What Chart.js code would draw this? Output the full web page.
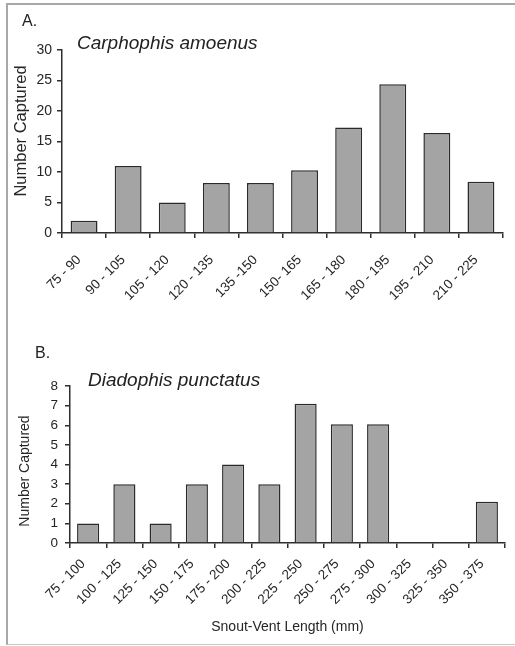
<!DOCTYPE html>
<html>
<head>
<meta charset="utf-8">
<script src="https://cdn.jsdelivr.net/npm/chart.js@4/dist/chart.umd.min.js"></script>
<style>
  html, body { margin: 0; padding: 0; background: #fff; }
  body { width: 515px; height: 646px; position: relative; overflow: hidden; font-family: "Liberation Sans", Arial, sans-serif; color: #222; }
  .frame { position: absolute; left: 6px; top: 3px; width: 507px; height: 639px; border-left: 2px solid #a8a8a8; border-top: 2px solid #a8a8a8; border-bottom: 1px solid #c8c8c8; }
  canvas { position: absolute; left: 0; }
  .panel { position: absolute; font-size: 16px; }
  .species { position: absolute; font-size: 19px; font-style: italic; }
</style>
</head>
<body>
<div class="frame"></div>
<canvas id="chart-a" width="515" height="300" style="top:0"></canvas>
<canvas id="chart-b" width="515" height="346" style="top:300px"></canvas>
<div class="panel" style="left:22px; top:12px">A.</div>
<div class="species" style="left:77px; top:32px">Carphophis amoenus</div>
<div class="panel" style="left:35px; top:344px">B.</div>
<div class="species" style="left:88px; top:369px">Diadophis punctatus</div>
<script>
// size classes (mm) and counts
const classesA = ['75 - 90', '90 - 105', '105 - 120', '120 - 135', '135 -150', '150- 165', '165 - 180', '180 - 195', '195 - 210', '210 - 225'];
const capturedA = [2, 11, 5, 8.2, 8.2, 10.3, 17.3, 24.4, 16.4, 8.4];
const yMaxA = 30;
const yStepA = 5;

const classesB = ['75 - 100', '100 - 125', '125 - 150', '150 - 175', '175 - 200', '200 - 225', '225 - 250', '250 - 275', '275 - 300', '300 - 325', '325 - 350', '350 - 375'];
const capturedB = [1, 3, 1, 3, 4, 3, 7.1, 6.05, 6.05, 0, 0, 2.1];
const yMaxB = 8;
const yStepB = 1;

const axisColor = '#2e2e2e';
const textColor = '#262626';

function makeHistogram(ctx, cfg) {
    const data = {
        labels: cfg.labels,
        datasets: [
            {
                label: 'Number Captured',
                data: cfg.values,
                backgroundColor: '#a4a4a4',
                borderColor: '#2a2a2a',
                borderWidth: 1.5,
                categoryPercentage: 1,
                barPercentage: 0.61,
            }
        ]
    };

    const options = {
        responsive: false,
        animation: false,
        layout: {
            padding: cfg.padding,
        },
        plugins: {
            legend: { display: false },
            title: { display: false },
            tooltip: { enabled: false },
        },
        scales: {
            x: {
                offset: true,
                grid: {
                    display: true,
                    offset: true,
                    drawOnChartArea: false,
                    tickLength: 5,
                    color: axisColor,
                    lineWidth: 1.5,
                },
                border: { color: axisColor, width: 1.5 },
                ticks: {
                    autoSkip: false,
                    minRotation: 45,
                    maxRotation: 45,
                    padding: cfg.xTickPadding,
                    labelOffset: -5,
                    color: textColor,
                    font: { family: 'Liberation Sans', size: 13.5 },
                },
                title: {
                    display: !!cfg.xTitle,
                    text: cfg.xTitle || '',
                    color: textColor,
                    font: { family: 'Liberation Sans', size: 14 },
                    padding: { top: 0, bottom: 10 },
                },
                afterFit(scale) { scale.height = cfg.xHeight; },
            },
            y: {
                min: 0,
                max: cfg.yMax,
                grid: {
                    display: true,
                    drawOnChartArea: false,
                    tickLength: 5,
                    color: axisColor,
                    lineWidth: 1.5,
                },
                border: { color: axisColor, width: 1.5 },
                ticks: {
                    stepSize: cfg.yStep,
                    padding: cfg.yTickPadding,
                    color: textColor,
                    font: { family: 'Liberation Sans', size: cfg.yTickSize },
                },
                afterFit(scale) { scale.width = cfg.yWidth; },
            },
        },
    };

    // y axis title, placed where the original has it (not centred on the axis)
    const yTitlePlugin = {
        id: 'yTitlePlugin',
        afterDraw(chart) {
            const { ctx } = chart;
            ctx.save();
            ctx.translate(cfg.yTitleAt[0], cfg.yTitleAt[1]);
            ctx.rotate(-Math.PI / 2);
            ctx.fillStyle = textColor;
            ctx.font = cfg.yTitleSize + 'px "Liberation Sans"';
            ctx.textAlign = 'center';
            ctx.textBaseline = 'middle';
            ctx.fillText('Number Captured', 0, 0);
            ctx.restore();
        }
    };

    return new Chart(ctx, {
        type: 'bar',
        data: data,
        options: options,
        plugins: [yTitlePlugin],
    });
}

makeHistogram(document.getElementById('chart-a').getContext('2d'), {
    labels: classesA,
    values: capturedA,
    yMax: yMaxA,
    yStep: yStepA,
    padding: { left: 0, right: 12, top: 50, bottom: 0 },
    yWidth: 62,
    xHeight: 67,
    xTickPadding: 14,
    yTickPadding: 5,
    yTickSize: 14,
    yTitleSize: 16.5,
    yTitleAt: [21, 131],
});

makeHistogram(document.getElementById('chart-b').getContext('2d'), {
    labels: classesB,
    values: capturedB,
    yMax: yMaxB,
    yStep: yStepB,
    padding: { left: 0, right: 10, top: 86, bottom: 0 },
    yWidth: 70,
    xHeight: 103,
    xTickPadding: 8,
    yTickPadding: 7,
    yTickSize: 13.5,
    yTitleSize: 14,
    yTitleAt: [25, 171],
    xTitle: 'Snout-Vent Length (mm)',
});
</script>
</body>
</html>
